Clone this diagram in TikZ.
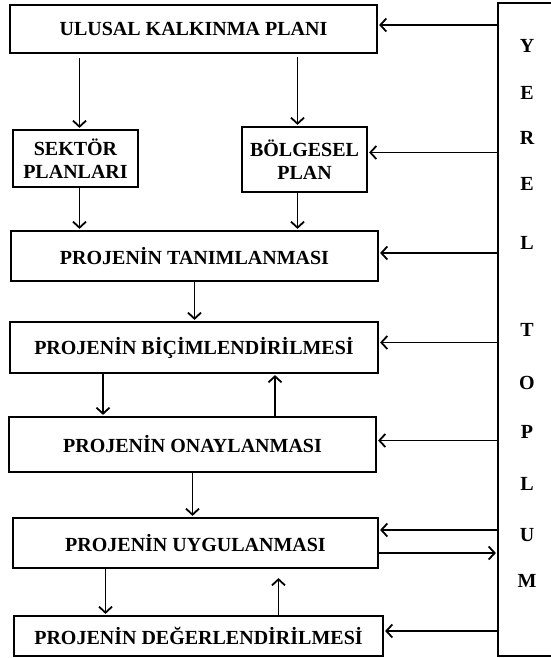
\documentclass[tikz,border=0pt]{standalone}
\usepackage{fontspec}
\setmainfont{Liberation Serif}
\usepackage{tikz}
\usetikzlibrary{arrows.meta}

\begin{document}
\begin{tikzpicture}[x=1pt,y=-1pt,
    kutu/.style={draw,line width=2.2pt,inner sep=0pt,align=center,font=\fontsize{20}{23}\selectfont\bfseries},
    harf/.style={inner sep=0pt,font=\fontsize{20}{23}\selectfont\bfseries},
    ok/.style={-{Straight Barb[length=6pt,width=13pt,line width=1.8pt]},line width=1.8pt,shorten >=1pt}]
      \clip (0,0) rectangle (551,658);
      \node[kutu,minimum width=367,minimum height=48] (ulusal) at (193.5,29) {ULUSAL KALKINMA PLANI};
      \node[kutu,minimum width=125,minimum height=57] (sektor) at (75.5,158.5) {SEKTÖR\\PLANLARI};
      \node[kutu,minimum width=125,minimum height=65] (bolgesel) at (304.5,159.5) {BÖLGESEL\\PLAN};
      \node[kutu,minimum width=367,minimum height=50] (tanim) at (194.5,256) {PROJENİN TANIMLANMASI};
      \node[kutu,minimum width=368,minimum height=51] (bicim) at (194,347.5) {PROJENİN BİÇİMLENDİRİLMESİ};
      \node[kutu,minimum width=367,minimum height=55] (onay) at (192.5,444.5) {PROJENİN ONAYLANMASI};
      \node[kutu,minimum width=365,minimum height=50] (uygulama) at (195.5,543) {PROJENİN UYGULANMASI};
      \node[kutu,minimum width=369,minimum height=40] (deger) at (198.5,636) {PROJENİN DEĞERLENDİRİLMESİ};
      \node[kutu,minimum width=70,minimum height=653] (toplum) at (533,329.5) {};
      \foreach \h/\yy in {Y/46,E/93,R/138,E/184,L/243,T/330,O/383,P/432,L/484,U/535,M/581}
        \node[harf] (h\yy) at (527,\yy) {\h};
      \draw[ok] ([yshift=4pt]ulusal.east -| toplum.west) -- ([yshift=4pt]ulusal.east);
      \draw[ok] ([yshift=7pt]bolgesel.east -| toplum.west) -- ([yshift=7pt]bolgesel.east);
      \draw[ok] ([yshift=3pt]tanim.east -| toplum.west) -- ([yshift=3pt]tanim.east);
      \draw[ok] ([yshift=5pt]bicim.east -| toplum.west) -- ([yshift=5pt]bicim.east);
      \draw[ok] ([yshift=4pt]onay.east -| toplum.west) -- ([yshift=4pt]onay.east);
      \draw[ok] ([yshift=13pt]uygulama.east -| toplum.west) -- ([yshift=13pt]uygulama.east);
      \draw[ok] ([yshift=-10pt]uygulama.east) -- ([yshift=-10pt]uygulama.east -| toplum.west);
      \draw[ok] ([yshift=5pt]deger.east -| toplum.west) -- ([yshift=5pt]deger.east);
      \draw[ok,shorten <=4pt] ([xshift=4pt]sektor.north |- ulusal.south) -- ([xshift=4pt]sektor.north);
      \draw[ok,shorten <=3pt] ([xshift=-7pt]bolgesel.north |- ulusal.south) -- ([xshift=-7pt]bolgesel.north);
      \draw[ok] ([xshift=4pt]sektor.south) -- ([xshift=4pt]sektor.south |- tanim.north);
      \draw[ok] ([xshift=-7pt]bolgesel.south) -- ([xshift=-7pt]bolgesel.south |- tanim.north);
      \draw[ok] (tanim.south) -- (tanim.south |- bicim.north);
      \draw[ok] ([xshift=-91pt]bicim.south) -- ([xshift=-91pt]bicim.south |- onay.north);
      \draw[ok] ([xshift=81pt]bicim.south |- onay.north) -- ([xshift=81pt]bicim.south);
      \draw[ok] (onay.south) -- (onay.south |- uygulama.north);
      \draw[ok] ([xshift=-90pt]uygulama.south) -- ([xshift=-90pt]uygulama.south |- deger.north);
      \draw[ok,shorten >=9pt] ([xshift=83pt]uygulama.south |- deger.north) -- ([xshift=83pt]uygulama.south);
\end{tikzpicture}
\end{document}
